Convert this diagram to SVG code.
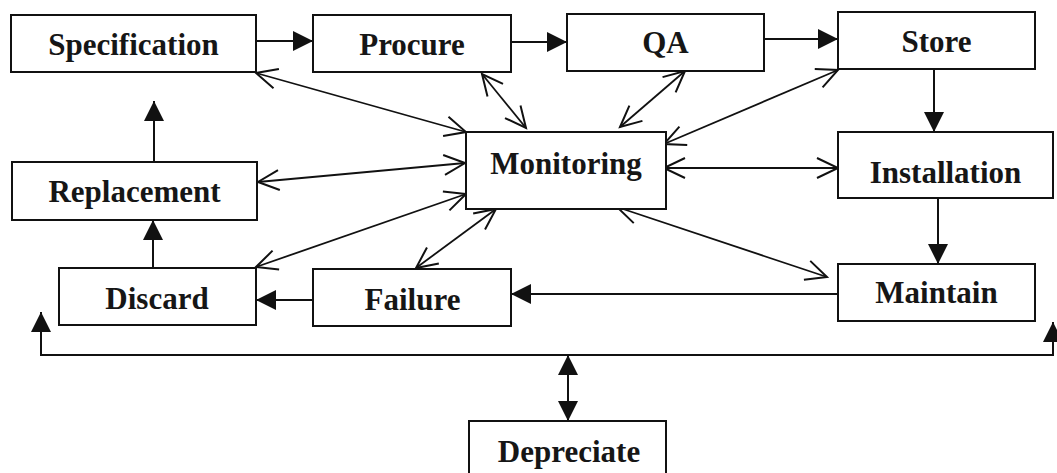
<svg xmlns="http://www.w3.org/2000/svg" width="1057" height="473" viewBox="0 0 1057 473">
  <style>
    .box rect { fill: #ffffff; stroke: #111111; stroke-width: 2; }
    .box text { font-family: "Liberation Serif", "Times New Roman", serif; font-weight: bold; font-size: 31px; fill: #161616; text-anchor: middle; }
    .flow { fill: none; stroke: #111111; stroke-width: 2; marker-end: url(#solid); }
    .flow2 { fill: none; stroke: #111111; stroke-width: 2; marker-start: url(#solid); marker-end: url(#solid); }
    .link { fill: none; stroke: #111111; stroke-width: 1.8; marker-start: url(#open); marker-end: url(#open); }
  </style>
  <defs>
    <marker id="solid" viewBox="0 0 20 20" refX="20" refY="10" markerWidth="20" markerHeight="20" markerUnits="userSpaceOnUse" orient="auto-start-reverse">
      <path d="M0,0 L20,10 L0,20 Z" fill="#111111"/>
    </marker>
    <marker id="open" viewBox="-1 -1 24 24" refX="21" refY="11" markerWidth="24" markerHeight="24" markerUnits="userSpaceOnUse" orient="auto-start-reverse" overflow="visible">
      <path d="M0,1 L21,11 L0,21" fill="none" stroke="#111111" stroke-width="2"/>
    </marker>
  </defs>

  <rect x="0" y="0" width="1057" height="473" fill="#ffffff"/>

  <!-- connectors -->
  <g id="connectors">
    <!-- main process chain -->
    <path class="flow" d="M256,41 H313"/>
    <path class="flow" d="M511,42 H567"/>
    <path class="flow" d="M764,39 H838"/>
    <path class="flow" d="M934,69 V132"/>
    <path class="flow" d="M938,198 V264"/>
    <path class="flow" d="M838,294 H511"/>
    <path class="flow" d="M313,300 H256"/>
    <path class="flow" d="M153,268 V220"/>
    <path class="flow" d="M154,162 V101"/>
    <!-- depreciation bus -->
    <path class="flow2" d="M41,312 V355 H1053 V322"/>
    <path class="flow2" d="M568,355 V421"/>
    <!-- monitoring links -->
    <path class="link" d="M256,73 L466,132"/>
    <path class="link" d="M482,74 L526,128"/>
    <path class="link" d="M685,71 L620,127"/>
    <path class="link" d="M838,70 L664,144"/>
    <path class="link" d="M664,168 L838,168"/>
    <path class="link" d="M258,182 L465,163"/>
    <path class="link" d="M256,267 L466,194"/>
    <path class="link" d="M416,268 L496,209"/>
    <path class="link" d="M617,207 L827,277"/>
  </g>

  <g id="specification" class="box">
    <rect x="11" y="15" width="245" height="57"/>
    <text x="133.5" y="55">Specification</text>
  </g>
  <g id="procure" class="box">
    <rect x="313" y="15" width="198" height="57"/>
    <text x="412" y="55">Procure</text>
  </g>
  <g id="qa" class="box">
    <rect x="567" y="14" width="197" height="57"/>
    <text x="665.5" y="53">QA</text>
  </g>
  <g id="store" class="box">
    <rect x="838" y="12" width="197" height="57"/>
    <text x="936.5" y="52">Store</text>
  </g>
  <g id="replacement" class="box">
    <rect x="12" y="162" width="245" height="58"/>
    <text x="134.5" y="202">Replacement</text>
  </g>
  <g id="monitoring" class="box">
    <rect x="466" y="132" width="200" height="77"/>
    <text x="566" y="174">Monitoring</text>
  </g>
  <g id="installation" class="box">
    <rect x="838" y="132" width="215" height="66"/>
    <text x="945.5" y="183">Installation</text>
  </g>
  <g id="discard" class="box">
    <rect x="59" y="268" width="197" height="57"/>
    <text x="157" y="309">Discard</text>
  </g>
  <g id="failure" class="box">
    <rect x="313" y="269" width="198" height="57"/>
    <text x="412.5" y="310">Failure</text>
  </g>
  <g id="maintain" class="box">
    <rect x="838" y="264" width="197" height="57"/>
    <text x="936.5" y="303">Maintain</text>
  </g>
  <g id="depreciate" class="box">
    <rect x="469" y="421" width="197" height="62"/>
    <text x="569" y="462">Depreciate</text>
  </g>
</svg>
